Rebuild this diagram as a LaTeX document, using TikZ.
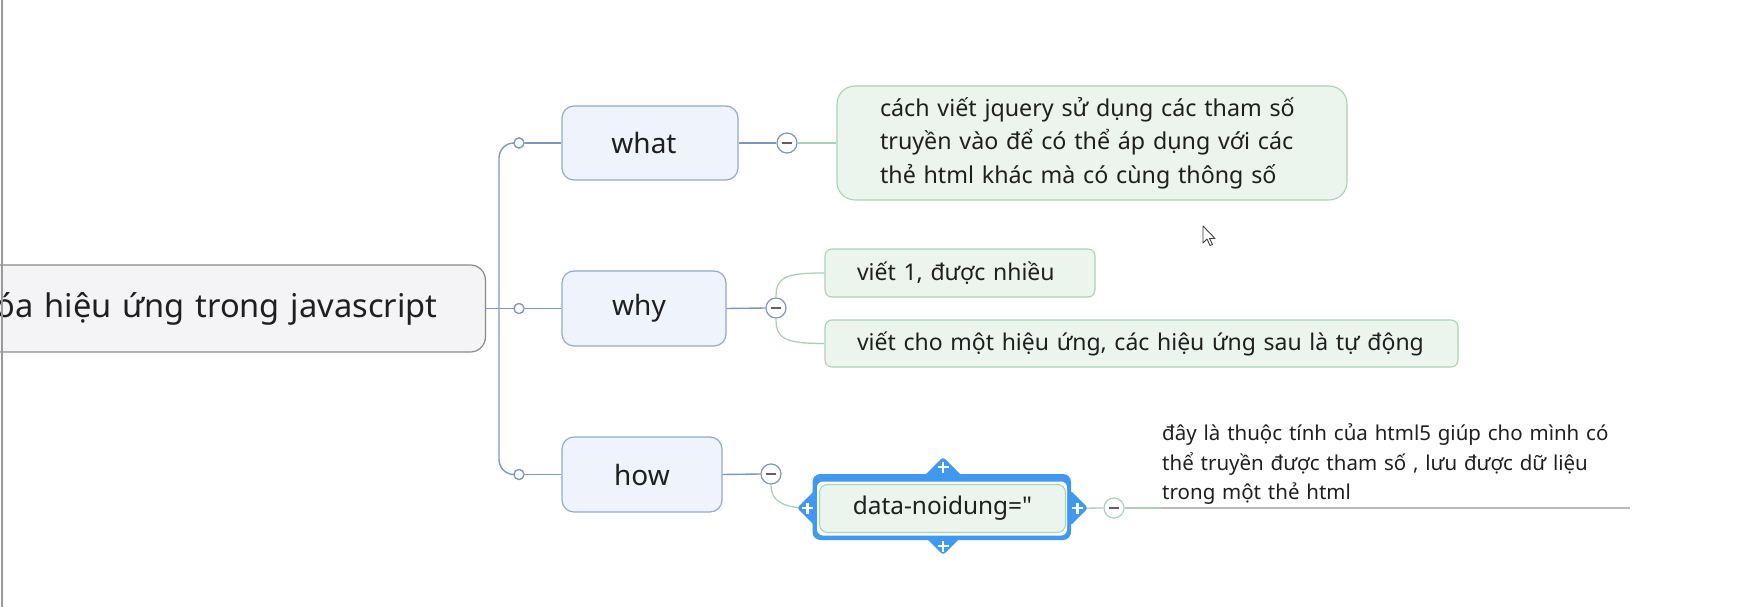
\documentclass[tikz,border=0pt]{standalone}
\usepackage{fontspec}
\setmainfont{Noto Sans}
\usetikzlibrary{calc}
\definecolor{txt}{HTML}{1F1F1F}
\definecolor{rootfill}{HTML}{F4F4F6}
\definecolor{rootborder}{HTML}{8A8A8A}
\definecolor{lonefill}{HTML}{EEF3FC}
\definecolor{loneborder}{HTML}{93AACB}
\definecolor{trunkc}{HTML}{7C98C2}
\definecolor{greenfill}{HTML}{EBF5EE}
\definecolor{greenborder}{HTML}{A9D3B5}
\definecolor{greenln}{HTML}{A8D2B4}
\definecolor{selblue}{RGB}{64,152,240}
\definecolor{minusc}{HTML}{606060}
\definecolor{underc}{HTML}{BBBBBB}
\definecolor{edgec}{HTML}{9A9A9A}
\tikzset{
  rootbox/.style={draw=rootborder, fill=rootfill, line width=1.2pt, rounded corners=15pt, text=txt, font=\fontsize{32.6}{38}\selectfont},
  lonebox/.style={draw=loneborder, fill=lonefill, line width=1.2pt, rounded corners=12pt, text=txt, font=\fontsize{28}{32}\selectfont, inner sep=0pt},
  greenbox/.style={draw=greenborder, fill=greenfill, line width=1.1pt, text=txt, inner sep=0pt},
  trunk/.style={draw=trunkc, line width=1.4pt},
  greenline/.style={draw=greenln, line width=1.3pt},
  smallcirc/.style={circle, draw=trunkc, fill=white, line width=1.2pt, minimum size=10pt, inner sep=0pt},
  collapse/.style={circle, fill=white, line width=1.2pt, minimum size=20pt, inner sep=0pt,
     path picture={\draw[minusc, line width=1.2pt] ([xshift=-5pt]path picture bounding box.center) -- ([xshift=5pt]path picture bounding box.center);}},
  plusmark/.style={draw=white, line width=2.6pt},
}
\begin{document}
\begin{tikzpicture}[x=1pt,y=-1pt]
\useasboundingbox (0,0) rectangle (1749,607);
\fill[white] (0,0) rectangle (1749,607);

% root (clipped at the left edge)
\node[rootbox, anchor=east, text width=480pt, align=right, inner xsep=48pt, minimum height=87pt] (root) at (486,308.5) {\mbox{óa hiệu ứng trong javascript}};
\draw[edgec, line width=2pt] (2,0) -- (2,607);

% level one
\node[lonebox, minimum width=176pt, minimum height=74pt] (what) at (650,143) {\hspace*{-6pt}what\hspace*{6pt}};
\node[lonebox, minimum width=164pt, minimum height=75pt] (why) at (644,308.5) {\hspace*{-5pt}why\hspace*{5pt}};
\node[lonebox, minimum width=160pt, minimum height=75pt] (how) at (642,474.5) {how};

\coordinate (tr) at (499,308.5);
\node[smallcirc] (k1) at (519,143) {};
\node[smallcirc] (k2) at (519,308.5) {};
\node[smallcirc] (k3) at (519,474.5) {};

\draw[trunk, rounded corners=15pt] (k1.west) -| (tr) |- (k3.west);
\draw[trunk] (root.east) -- (k2.west);
\draw[trunk] (k1.east) -- (what.west);
\draw[trunk] (k2.east) -- (why.west);
\draw[trunk] (k3.east) -- (how.west);
\node[smallcirc] at (k1) {};
\node[smallcirc] at (k2) {};
\node[smallcirc] at (k3) {};

% collapse buttons
\node[collapse, draw=trunkc] (wc) at (787,143) {};
\node[collapse, draw=trunkc] (yc) at (776,308) {};
\node[collapse, draw=trunkc] (hc) at (771,474) {};
\draw[trunk] (what.east) -- (wc.west);
\draw[trunk] (why.east) -- (yc.west);
\draw[trunk] (how.east) -- (hc.west);

% what child
\node[greenbox, rounded corners=18pt, text width=424pt, inner xsep=43pt, minimum height=114pt, align=left,
      font=\fontsize{23.25}{33.5}\selectfont] (wt) at (1092,143)
  {\mbox{cách viết jquery sử dụng các tham số}\\\mbox{truyền vào để có thể áp dụng với các}\\\mbox{thẻ html khác mà có cùng thông số}};
\draw[greenline] (wc.east) -- (wt.west);

% why children
\node[greenbox, rounded corners=7pt, text width=206pt, inner xsep=32pt, minimum height=48pt, align=left,
      font=\fontsize{23}{28}\selectfont] (c1) at (960,273) {\mbox{viết 1, được nhiều}};
\node[greenbox, rounded corners=7pt, text width=569pt, inner xsep=32pt, minimum height=47pt, align=left,
      font=\fontsize{23}{28}\selectfont] (c2) at (1141.5,343.5) {\mbox{viết cho một hiệu ứng, các hiệu ứng sau là tự động}};
\draw[greenline] (yc.north) .. controls ($(yc.north)+(0,-20)$) and ($(c1.west)+(-40,0)$) .. (c1.west);
\draw[greenline] (yc.south) .. controls ($(yc.south)+(0,20)$) and ($(c2.west)+(-40,0)$) .. (c2.west);

% how child with selection frame
\coordinate (dpos) at (942.5,508.5);
\node[collapse, draw=greenln] (dc) at (1114,508) {};
\draw[greenline] (hc.south) .. controls ($(hc.south)+(0,22)$) and ($(dpos)+(-150,0)$) .. ($(dpos)+(-122,0)$);
\draw[greenline] ($(dpos)+(120,0)$) -- (dc.west);
% selection frame
\begin{scope}[selblue]
  \fill[rounded corners=3pt] (943,457) -- (962,476) -- (943,495) -- (924,476) -- cycle;
  \fill[rounded corners=3pt] (943,555) -- (962,536) -- (943,517) -- (924,536) -- cycle;
  \fill[rounded corners=3pt] (797,508) -- (815,490) -- (833,508) -- (815,526) -- cycle;
  \fill[rounded corners=3pt] (1088,508) -- (1070,490) -- (1052,508) -- (1070,526) -- cycle;
  \fill[rounded corners=8pt] (812.5,474) rectangle (1071,540);
\end{scope}
\fill[white, rounded corners=6pt] (817,481.5) rectangle (1067,535.5);
\node[greenbox, rounded corners=8pt, minimum width=246pt, minimum height=48pt,
      font=\fontsize{24.4}{28}\selectfont] (data) at (dpos) {data-noidung=\textquotedbl};
\draw[plusmark] (937.5,467) -- (948.5,467) (943,461.5) -- (943,472.5);
\draw[plusmark] (937.5,546) -- (948.5,546) (943,540.5) -- (943,551.5);
\draw[plusmark] (802,508) -- (813,508) (807.5,502.5) -- (807.5,513.5);
\draw[plusmark] (1072,508) -- (1083,508) (1077.5,502.5) -- (1077.5,513.5);

% note
\node[anchor=south west, text width=468pt, align=left, inner xsep=0pt, inner ysep=3pt, text=txt,
      font=\fontsize{20.5}{29.5}\selectfont] (note) at (1162,508)
  {\mbox{đây là thuộc tính của html5 giúp cho mình có}\\\mbox{thể truyền được tham số , lưu được dữ liệu}\\\mbox{trong một thẻ html}};
\draw[greenline] (dc.east) -- (note.south west);
\draw[underc, line width=1.4pt] (note.south west) -- (note.south east);

% mouse pointer
\draw[fill=white, draw=black!75, line width=0.9pt, line join=round]
  (1203,226) -- (1203,243) -- (1207,239) -- (1210,245.5) -- (1212.5,244.5) -- (1209.5,238.5) -- (1215,238.5) -- cycle;
\end{tikzpicture}
\end{document}
